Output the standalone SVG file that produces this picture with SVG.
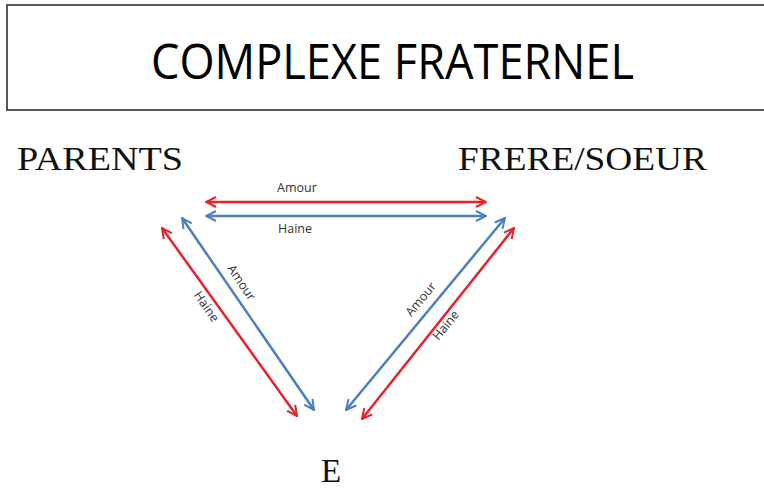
<svg xmlns="http://www.w3.org/2000/svg" width="764" height="488" viewBox="0 0 764 488">
<style>
.title{font-family:"Open Sans","Liberation Sans",sans-serif;font-size:50px;fill:#000}
.node{font-family:"Liberation Serif","Times New Roman",serif;font-size:33px;fill:#111}
.lbl{font-family:"Open Sans","Liberation Sans",sans-serif;font-size:12.5px;fill:#333}
.red{stroke:#e8202a;stroke-width:2.5;fill:none;marker-start:url(#ar);marker-end:url(#ar)}
.blue{stroke:#4a7fc1;stroke-width:2.5;fill:none;marker-start:url(#ab);marker-end:url(#ab)}
</style>
<defs>
<marker id="ar" viewBox="0 0 10 10" refX="9" refY="5" markerWidth="5" markerHeight="5" orient="auto-start-reverse" markerUnits="strokeWidth"><path d="M1,1 L9,5 L1,9" fill="none" stroke="#e8202a" stroke-width="1.6"/></marker>
<marker id="ab" viewBox="0 0 10 10" refX="9" refY="5" markerWidth="5" markerHeight="5" orient="auto-start-reverse" markerUnits="strokeWidth"><path d="M1,1 L9,5 L1,9" fill="none" stroke="#4a7fc1" stroke-width="1.6"/></marker>
</defs>
<rect width="764" height="488" fill="#fff"/>
<g id="title">
<rect x="7" y="5" width="770" height="105" fill="#fff" stroke="#222" stroke-width="1.5"/>
<text class="title" x="151" y="79" textLength="483" lengthAdjust="spacingAndGlyphs">COMPLEXE FRATERNEL</text>
</g>
<g id="parents"><text class="node" x="17" y="170" textLength="166" lengthAdjust="spacingAndGlyphs">PARENTS</text></g>
<g id="frere-soeur"><text class="node" x="458" y="170" textLength="249" lengthAdjust="spacingAndGlyphs">FRERE/SOEUR</text></g>
<g id="e"><text class="node" x="321" y="482">E</text></g>
<g id="connectors">
<line class="red" x1="206" y1="202" x2="486" y2="202"/>
<line class="blue" x1="206" y1="216" x2="486" y2="216"/>
<line class="blue" x1="182" y1="218" x2="314" y2="410"/>
<line class="red" x1="162" y1="228" x2="297" y2="416"/>
<line class="blue" x1="505" y1="218" x2="346" y2="410"/>
<line class="red" x1="514" y1="228" x2="362" y2="419"/>
<text class="lbl" x="297" y="192" text-anchor="middle">Amour</text>
<text class="lbl" x="295" y="233" text-anchor="middle">Haine</text>
<text class="lbl" transform="translate(238,285) rotate(55.5)" text-anchor="middle">Amour</text>
<text class="lbl" transform="translate(203,309) rotate(55.5)" text-anchor="middle">Haine</text>
<text class="lbl" transform="translate(424,302) rotate(-50.4)" text-anchor="middle">Amour</text>
<text class="lbl" transform="translate(449,328) rotate(-50.4)" text-anchor="middle">Haine</text>
</g>
</svg>
